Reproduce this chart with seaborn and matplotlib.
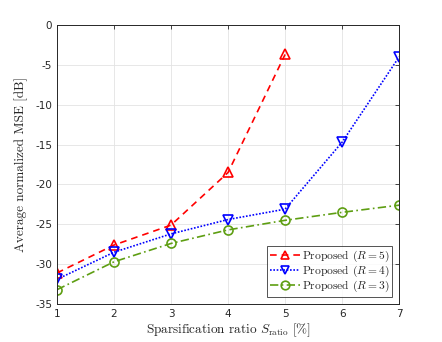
import numpy as np
import pandas as pd
import matplotlib
matplotlib.use("Agg")
import matplotlib.pyplot as plt
import seaborn as sns

sns.set_style("white")
plt.rcParams.update({
    "mathtext.fontset": "cm",
    "axes.unicode_minus": False,
    "font.family": ["DejaVu Sans"],
})

# data
ratio = [1, 2, 3, 4, 5, 6, 7]
mse_r5 = [-31.1, -27.6, -25.1, -18.5, -3.7]
mse_r4 = [-31.9, -28.5, -26.2, -24.4, -23.1, -14.7, -4.0]
mse_r3 = [-33.2, -29.7, -27.4, -25.7, -24.5, -23.5, -22.6]

labels = ["Proposed ($R=5$)", "Proposed ($R=4$)", "Proposed ($R=3$)"]
colors = ["#FF0000", "#0000FF", "#5E9E12"]
markers = ["^", "v", "o"]
dashes = [(4, 3), (1, 1), (5, 2, 1, 2)]

df = pd.concat([
    pd.DataFrame({"x": ratio[:len(mse_r5)], "y": mse_r5, "s": labels[0]}),
    pd.DataFrame({"x": ratio, "y": mse_r4, "s": labels[1]}),
    pd.DataFrame({"x": ratio, "y": mse_r3, "s": labels[2]}),
])

fig = plt.figure(figsize=(4.42, 3.42), dpi=100)
ax = fig.add_axes([0.129, 0.111, 0.774, 0.816])

for lab, c, m, d in zip(labels, colors, markers, dashes):
    sub = df[df["s"] == lab]
    sns.lineplot(data=sub, x="x", y="y", ax=ax, color=c, marker=m,
                 markersize=6.5, markerfacecolor="none", markeredgecolor=c,
                 markeredgewidth=1.2, linewidth=1.2, dashes=False, label=lab)
    ax.lines[-1].set_dashes(d)

ax.set_xlim(1, 7)
ax.set_ylim(-35, 0)
ax.set_xticks(ratio)
ax.set_yticks(np.arange(-35, 1, 5))
ax.grid(True, color="#E3E3E3", linewidth=0.6)
ax.tick_params(direction="in", length=3, top=True, right=True,
               labelsize=7.5, colors="#262626", width=0.6)
for sp in ax.spines.values():
    sp.set_color("#262626")
    sp.set_linewidth(0.7)

ax.set_xlabel(r"Sparsification ratio $S_{\mathrm{ratio}}$ [%]",
              family="cmr10", fontsize=9.5, labelpad=2)
ax.set_ylabel("Average normalized MSE [dB]", family="cmr10",
              fontsize=9.5, labelpad=5)

leg = ax.legend(loc="lower right", prop={"family": "cmr10", "size": 8.3},
                frameon=True, fancybox=False, edgecolor="#262626",
                handlelength=2.6, handletextpad=0.15, borderpad=0.25,
                labelspacing=0.0, borderaxespad=0.6, markerscale=0.95)
leg.get_frame().set_linewidth(0.7)

fig.savefig("out.png", dpi=100)
